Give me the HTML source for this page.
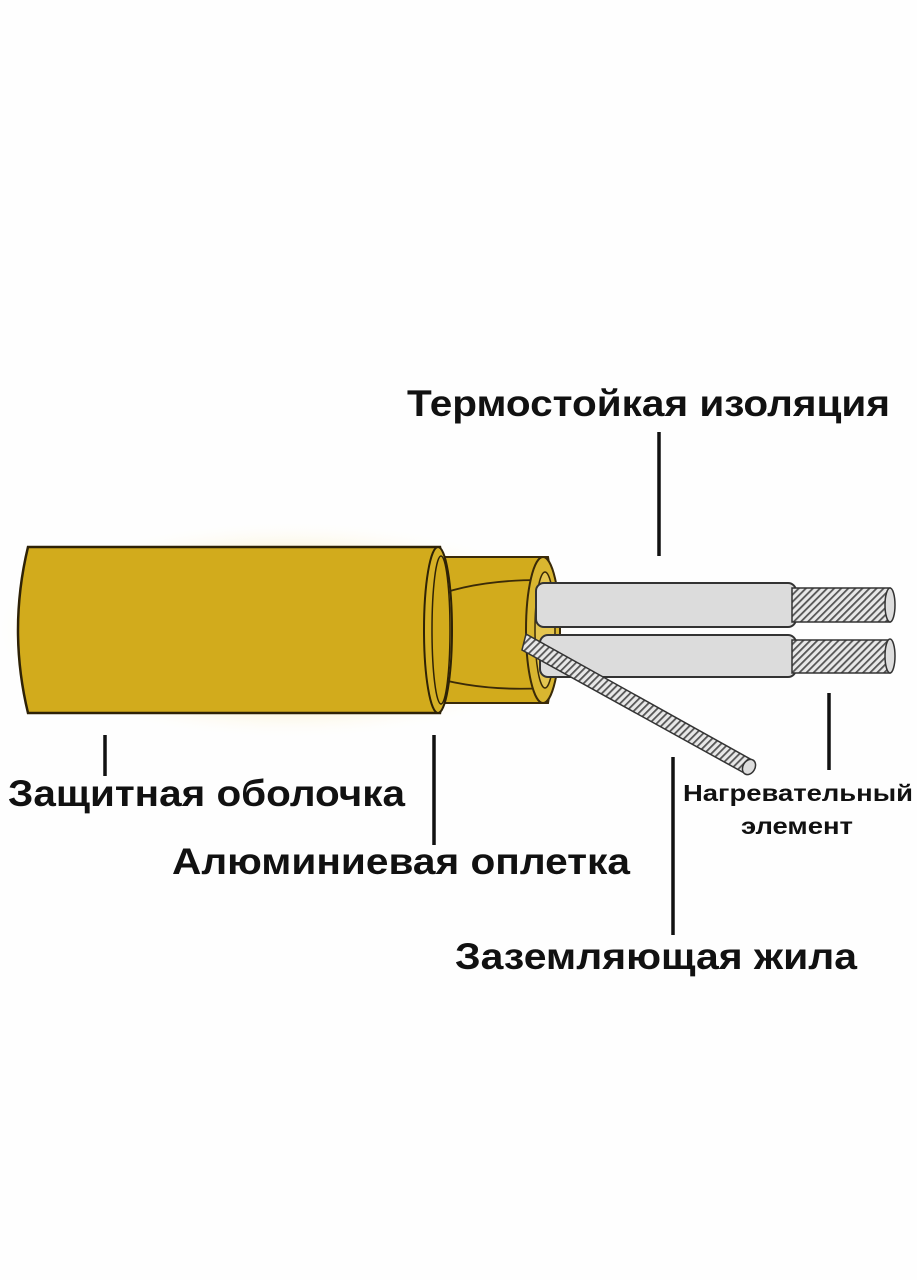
<!DOCTYPE html>
<html><head><meta charset="utf-8"><style>
html,body{margin:0;padding:0;background:#fefefe;}
svg{display:block}
text{font-family:"Liberation Sans","DejaVu Sans",sans-serif;font-weight:bold;fill:#111}
</style></head><body>
<svg width="917" height="1280" viewBox="0 0 917 1280" xmlns="http://www.w3.org/2000/svg">
<defs>
<pattern id="st" width="5" height="5" patternUnits="userSpaceOnUse" patternTransform="rotate(45)">
<rect width="5" height="5" fill="#e8e8e8"/><rect width="1.8" height="5" fill="#555"/>
</pattern>
<radialGradient id="glow" cx="0.5" cy="0.5" r="0.5">
<stop offset="0.7" stop-color="#f8e9b0" stop-opacity="0.5"/><stop offset="1" stop-color="#fff" stop-opacity="0"/>
</radialGradient>
</defs>
<rect width="917" height="1280" fill="#fefefe"/>
<ellipse cx="290" cy="630" rx="300" ry="110" fill="url(#glow)"/>
<!-- braid section -->
<path d="M432 557 L548 557 Q562 630 548 703 L432 703 Z" fill="#d2ab1c" stroke="#3a2a08" stroke-width="2"/>
<path d="M425 600 Q470 580 540 580 M425 675 Q480 692 545 688" fill="none" stroke="#3a2a08" stroke-width="1.8"/>
<ellipse cx="543" cy="630" rx="17" ry="73" fill="#d9b630" stroke="#3a2a08" stroke-width="2"/>
<ellipse cx="545" cy="630" rx="10" ry="58" fill="#e4c550" stroke="#3a2a08" stroke-width="1.5"/>
<!-- outer jacket -->
<path d="M28 547 L440 547 Q455 630 440 713 L28 713 Q8 630 28 547 Z" fill="#d2ab1c" stroke="#2e2206" stroke-width="2.5"/>
<ellipse cx="438" cy="630" rx="14" ry="83" fill="#d6b126" stroke="#2e2206" stroke-width="2"/>
<ellipse cx="441" cy="630" rx="9" ry="74" fill="#d2ab1c" stroke="#2e2206" stroke-width="1.5"/>
<!-- top wire -->
<rect x="536" y="583" width="260" height="44" rx="8" fill="#dcdcdc" stroke="#333" stroke-width="2"/>
<rect x="792" y="588" width="98" height="34" fill="url(#st)" stroke="#333" stroke-width="1.5"/>
<ellipse cx="890" cy="605" rx="5" ry="17" fill="#ddd" stroke="#333" stroke-width="1.5"/>
<!-- bottom wire -->
<rect x="540" y="635" width="256" height="42" rx="8" fill="#dcdcdc" stroke="#333" stroke-width="2"/>
<rect x="792" y="640" width="98" height="33" fill="url(#st)" stroke="#333" stroke-width="1.5"/>
<ellipse cx="890" cy="656" rx="5" ry="17" fill="#ddd" stroke="#333" stroke-width="1.5"/>
<!-- ground wire -->
<path d="M526 634 L752 760 L746 774 L522 650 Z" fill="url(#st)" stroke="#333" stroke-width="1.5"/>
<ellipse cx="749" cy="767" rx="6" ry="8" fill="#ddd" stroke="#333" stroke-width="1.5" transform="rotate(30 749 767)"/>
<!-- leader lines -->
<g stroke="#111" stroke-width="3.5">
<line x1="659" y1="432" x2="659" y2="556"/>
<line x1="105" y1="735" x2="105" y2="776"/>
<line x1="434" y1="735" x2="434" y2="845"/>
<line x1="673" y1="757" x2="673" y2="935"/>
<line x1="829" y1="693" x2="829" y2="770"/>
</g>
<text x="407" y="416" font-size="37" textLength="483" lengthAdjust="spacingAndGlyphs">Термостойкая изоляция</text>
<text x="8" y="806" font-size="37" textLength="397" lengthAdjust="spacingAndGlyphs">Защитная оболочка</text>
<text x="172" y="874" font-size="37" textLength="458" lengthAdjust="spacingAndGlyphs">Алюминиевая оплетка</text>
<text x="455" y="969" font-size="37" textLength="402" lengthAdjust="spacingAndGlyphs">Заземляющая жила</text>
<text x="683" y="801" font-size="23" textLength="230" lengthAdjust="spacingAndGlyphs">Нагревательный</text>
<text x="741" y="834" font-size="23" textLength="112" lengthAdjust="spacingAndGlyphs">элемент</text>
</svg>
</body></html>
